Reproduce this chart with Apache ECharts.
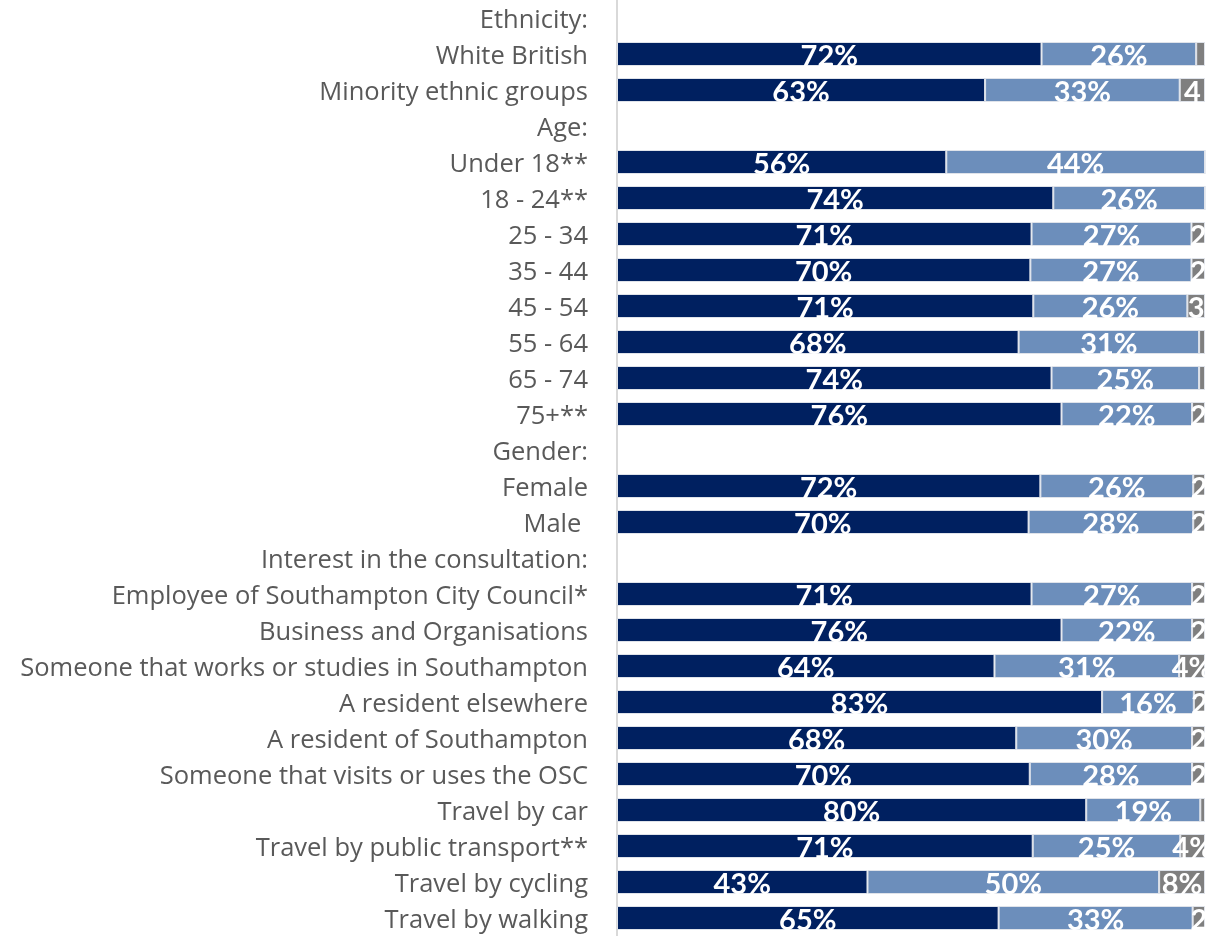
<!DOCTYPE html>
<html>
<head>
<meta charset="utf-8">
<script src="https://cdn.jsdelivr.net/npm/echarts@6/dist/echarts.min.js"></script>
<style>
html,body{margin:0;padding:0;background:#fff;}
#chart{width:1216px;height:936px;}
</style>
</head>
<body>
<div id="chart"></div>
<script>
const categories = [
  'Ethnicity:', 'White British', 'Minority ethnic groups',
  'Age:', 'Under 18**', '18 - 24**', '25 - 34', '35 - 44', '45 - 54', '55 - 64', '65 - 74', '75+**',
  'Gender:', 'Female', 'Male ',
  'Interest in the consultation:', 'Employee of Southampton City Council*', 'Business and Organisations',
  'Someone that works or studies in Southampton', 'A resident elsewhere', 'A resident of Southampton',
  'Someone that visits or uses the OSC', 'Travel by car', 'Travel by public transport**',
  'Travel by cycling', 'Travel by walking'
];
const navyValues = [null, 72.2, 62.6, null, 56.0, 74.2, 70.5, 70.3, 70.8, 68.3, 73.9, 75.6, null, 72.0, 70.0, null, 70.5, 75.6, 64.2, 82.5, 67.9, 70.2, 79.8, 70.7, 42.6, 64.9];
const lightValues = [null, 26.3, 33.1, null, 44.0, 25.8, 27.2, 27.4, 26.2, 30.7, 25.1, 22.2, null, 26.0, 28.0, null, 27.3, 22.2, 31.4, 15.6, 29.9, 27.6, 19.4, 25.1, 49.6, 33.0];
const greyValues = [null, 1.5, 4.3, null, 0, 0, 2.3, 2.3, 3.0, 1.0, 1.0, 2.2, null, 2.0, 2.0, null, 2.2, 2.2, 4.4, 1.9, 2.2, 2.2, 0.8, 4.2, 7.8, 2.1];
const greyLabels = ['', '', '4', '', '', '', '2', '2', '3', '', '', '2', '', '2', '2', '', '2', '2', '4%', '2', '2', '2', '', '4%', '8%', '2'];

const labelStyle = {
  show: true,
  position: 'inside',
  color: '#ffffff',
  fontFamily: 'Lato',
  fontWeight: 'bold',
  fontSize: 29,
  offset: [0, 3]
};
const pctLabel = p => (p.value == null ? '' : Math.round(p.value) + '%');

const chart = echarts.init(document.getElementById('chart'), null, {renderer: 'canvas'});
chart.setOption({
  animation: false,
  backgroundColor: '#ffffff',
  grid: {left: 617, right: 11, top: 0, bottom: -2, containLabel: false},
  xAxis: {type: 'value', min: 0, max: 100, show: false},
  yAxis: {
    type: 'category',
    inverse: true,
    data: categories,
    axisLine: {show: true, lineStyle: {color: '#d9d9d9', width: 2}},
    axisTick: {show: false},
    splitLine: {show: false},
    axisLabel: {
      color: '#595959',
      fontFamily: 'Open Sans',
      fontSize: 25.5,
      margin: 29,
      formatter: v => '{a|' + v + '}',
      rich: {
        a: {color: '#595959', fontFamily: 'Open Sans', fontSize: 25.5, padding: [6, 0, 0, 0]}
      }
    }
  },
  series: [
    {
      name: 'navy', type: 'bar', stack: 'total', barWidth: 24,
      data: navyValues,
      itemStyle: {color: '#002060', borderColor: '#dfe3ea', borderWidth: 1},
      label: Object.assign({}, labelStyle, {formatter: pctLabel})
    },
    {
      name: 'light', type: 'bar', stack: 'total', barWidth: 24,
      data: lightValues,
      itemStyle: {color: '#6c8ebb', borderColor: '#dfe3ea', borderWidth: 1},
      label: Object.assign({}, labelStyle, {formatter: pctLabel})
    },
    {
      name: 'grey', type: 'bar', stack: 'total', barWidth: 24,
      data: greyValues,
      itemStyle: {color: '#7f7f7f', borderColor: '#dfe3ea', borderWidth: 1},
      label: Object.assign({}, labelStyle, {formatter: p => greyLabels[p.dataIndex]})
    }
  ],
  graphic: [{
    type: 'rect', right: 0, top: 0, z: 100,
    shape: {width: 10, height: 936},
    style: {fill: '#ffffff'}
  }]
});
</script>
</body>
</html>
